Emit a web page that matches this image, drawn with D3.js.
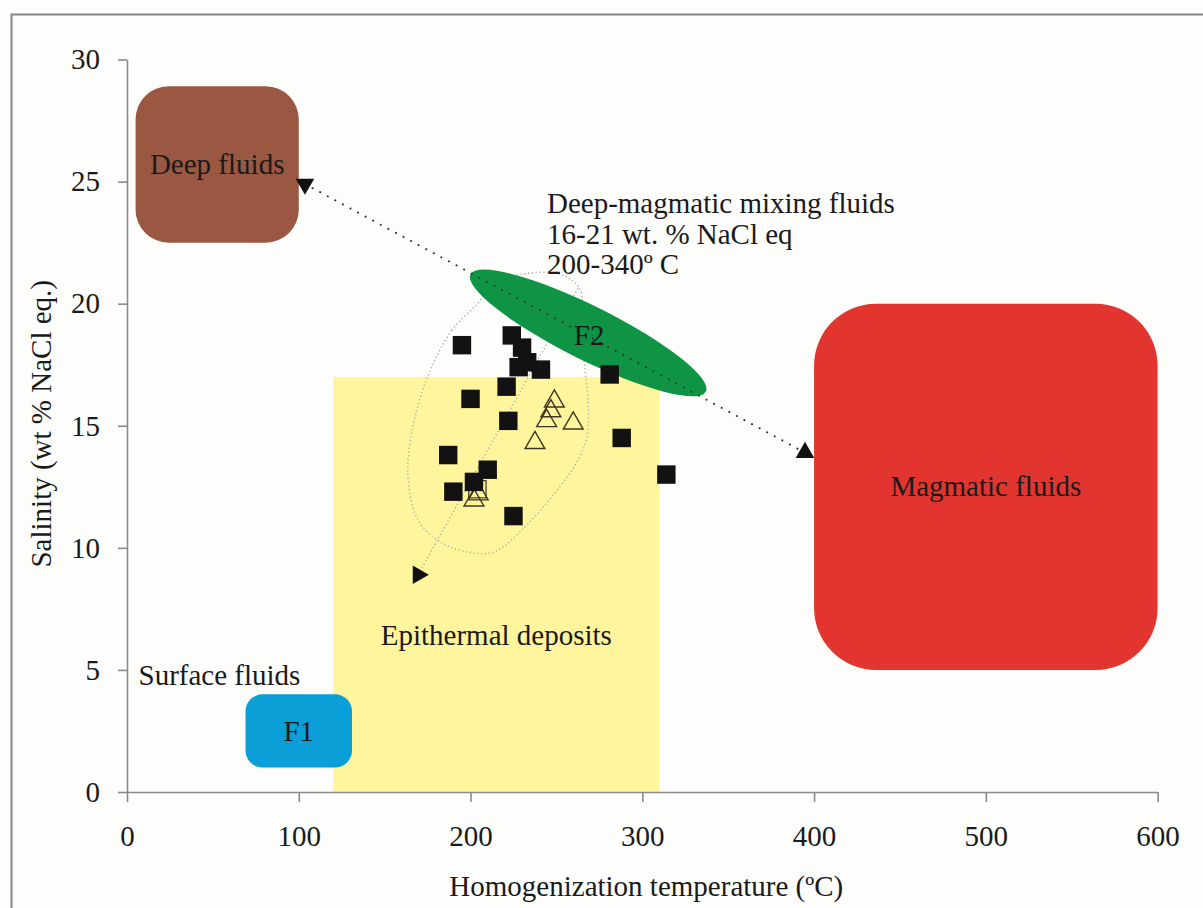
<!DOCTYPE html>
<html>
<head>
<meta charset="utf-8">
<script src="https://cdn.jsdelivr.net/npm/d3@7"></script>
<style>
  html, body { margin: 0; padding: 0; background: #ffffff; }
  svg { display: block; }
  text { font-family: "Liberation Serif", "Times New Roman", serif; fill: #1a1a1a; }
</style>
</head>
<body>
<svg id="chart" width="1203" height="908"></svg>
<script>
// ---- axis ticks ----
const xTicks = [0, 100, 200, 300, 400, 500, 600];
const yTicks = [0, 5, 10, 15, 20, 25, 30];

// ---- fluid fields: temperature range (°C) and salinity range (wt % NaCl eq.) ----
const fieldNames = ["Epithermal deposits", "Deep fluids", "Magmatic fluids", "F1"];
const fieldTemp  = [[120, 310], [5, 100], [400, 600], [69, 131]];
const fieldSal   = [[0, 17], [22.5, 28.9], [5, 20], [1, 4]];

// ---- F2 mixing field: the two ends of its long axis (°C, wt %) ----
const f2Axis = [[200, 21.2], [337, 16.4]];

// ---- fluid inclusion measurements: [Th °C, salinity wt % NaCl eq.] ----
const squareData = [
  [195, 18.3], [224, 18.7], [230, 18.2], [228, 17.4], [233, 17.6], [241, 17.3],
  [221, 16.6], [281, 17.1], [200, 16.1], [222, 15.2], [288, 14.5], [187, 13.8],
  [210, 13.2], [202, 12.7], [190, 12.3], [314, 13.0], [225, 11.3]
];
const triangleData = [
  [248.8, 16.0], [246.8, 15.6], [244.3, 15.2], [259.8, 15.1], [237.5, 14.3], [202, 11.95], [204.5, 12.2]
];
const openSquareData = [[204, 12.4]];

// ---- trend lines ----
const mixingTrend   = [[103.6, 24.9], [394.7, 13.9]];
const dilutionTrend = [[169.5, 8.9], [263, 20.7]];

// ---- outline around the measured inclusion population ----
const populationOutline = [
  [204, 20.0], [189, 18.9], [175, 17.0], [166, 14.8], [163.6, 12.9], [169.4, 11.15],
  [183.4, 10.2], [200.8, 9.8], [214.2, 9.84], [230, 10.74], [247.4, 12.1], [262.6, 13.6],
  [267.8, 14.55], [268.4, 16.1], [266.6, 17.3], [264.9, 19.2], [263.7, 20.6],
  [252, 21.2], [229, 21.2], [214, 20.8]
];

const mixingNote = ["Deep-magmatic mixing fluids", "16-21 wt. % NaCl eq", "200-340º C"];

// ---- styling ----
const fieldStyle = {
  "Epithermal deposits": { fill: "#fff59c", rx: 0 },
  "Deep fluids":         { fill: "#9a5842", rx: 33 },
  "Magmatic fluids":     { fill: "#e2352f", rx: 62 },
  "F1":                  { fill: "#0a9fd6", rx: 17 }
};
const FONT = 29;

const svg = d3.select("#chart");
const W = 1203, H = 908;

const x = d3.scaleLinear().domain([0, 600]).range([127, 1157.6]);
const y = d3.scaleLinear().domain([0, 30]).range([792, 59.5]);

// page background and frame
svg.append("rect").attr("width", W).attr("height", H).attr("fill", "#fdfdfb");
svg.append("path")
  .attr("d", `M11.5,${H} V14.5 H${W}`)
  .attr("fill", "none").attr("stroke", "#868686").attr("stroke-width", 2);

// fluid fields
const fields = fieldNames.map((n, i) => ({ name: n, t: fieldTemp[i], s: fieldSal[i] }));
svg.append("g").selectAll("rect").data(fields).join("rect")
  .attr("x", d => x(d.t[0]))
  .attr("y", d => y(d.s[1]))
  .attr("width", d => x(d.t[1]) - x(d.t[0]))
  .attr("height", d => y(d.s[0]) - y(d.s[1]))
  .attr("rx", d => fieldStyle[d.name].rx)
  .attr("fill", d => fieldStyle[d.name].fill);

// outline of inclusion population
svg.append("path")
  .datum(populationOutline)
  .attr("d", d3.line().x(d => x(d[0])).y(d => y(d[1])).curve(d3.curveCatmullRomClosed.alpha(0.5)))
  .attr("fill", "none").attr("stroke", "#a9a9a2").attr("stroke-width", 1.4)
  .attr("stroke-dasharray", "1.2,2.6");

// dilution trend (dotted) with right-pointing head
svg.append("path")
  .datum(dilutionTrend)
  .attr("d", d3.line().x(d => x(d[0])).y(d => y(d[1])))
  .attr("fill", "none").attr("stroke", "#a9a9a2").attr("stroke-width", 1.4)
  .attr("stroke-dasharray", "1.2,2.6");

// F2 mixing field
const p1 = [x(f2Axis[0][0]), y(f2Axis[0][1])];
const p2 = [x(f2Axis[1][0]), y(f2Axis[1][1])];
const cx = (p1[0] + p2[0]) / 2, cy = (p1[1] + p2[1]) / 2;
const semiMajor = Math.hypot(p2[0] - p1[0], p2[1] - p1[1]) / 2;
const angle = Math.atan2(p2[1] - p1[1], p2[0] - p1[0]) * 180 / Math.PI;
svg.append("ellipse")
  .attr("cx", 0).attr("cy", 0).attr("rx", semiMajor).attr("ry", 27)
  .attr("transform", `translate(${cx},${cy}) rotate(${angle})`)
  .attr("fill", "#0e9444");

// deep–magmatic mixing trend (dotted)
svg.append("path")
  .datum(mixingTrend)
  .attr("d", d3.line().x(d => x(d[0])).y(d => y(d[1])))
  .attr("fill", "none").attr("stroke", "#333").attr("stroke-width", 2)
  .attr("stroke-linecap", "round").attr("stroke-dasharray", "0.1,8.5");

// trend end markers
const tri = d3.symbol().type(d3.symbolTriangle);
const heads = [
  { p: mixingTrend[0], rot: 180, size: 150 },
  { p: mixingTrend[1], rot: 0, size: 150 },
  { p: dilutionTrend[0], rot: 90, size: 150 }
];
svg.append("g").selectAll("path").data(heads).join("path")
  .attr("d", d => tri.size(d.size)())
  .attr("transform", d => `translate(${x(d.p[0])},${y(d.p[1])}) rotate(${d.rot})`)
  .attr("fill", "#111");

// open squares
svg.append("g").selectAll("path").data(openSquareData).join("path")
  .attr("d", d3.symbol().type(d3.symbolSquare).size(300)())
  .attr("transform", d => `translate(${x(d[0])},${y(d[1])})`)
  .attr("fill", "none").attr("stroke", "#4a4532").attr("stroke-width", 1.3);

// open triangles
svg.append("g").selectAll("path").data(triangleData).join("path")
  .attr("d", d3.symbol().type(d3.symbolTriangle).size(170)())
  .attr("transform", d => `translate(${x(d[0])},${y(d[1])})`)
  .attr("fill", "none").attr("stroke", "#3d3823").attr("stroke-width", 1.4);

// filled squares
svg.append("g").selectAll("path").data(squareData).join("path")
  .attr("d", d3.symbol().type(d3.symbolSquare).size(340)())
  .attr("transform", d => `translate(${x(d[0])},${y(d[1])})`)
  .attr("fill", "#121212");

// axes
const axisColor = "#8a8a8a";
const gx = svg.append("g").attr("transform", `translate(0,${y(0)})`)
  .call(d3.axisBottom(x).tickValues(xTicks).tickSize(10).tickSizeOuter(0).tickPadding(23));
const gy = svg.append("g").attr("transform", `translate(${x(0)},0)`)
  .call(d3.axisLeft(y).tickValues(yTicks).tickSize(9).tickSizeOuter(0).tickPadding(18));
[gx, gy].forEach(g => {
  g.select(".domain").attr("stroke", axisColor).attr("stroke-width", 1.6);
  g.selectAll(".tick line").attr("stroke", axisColor).attr("stroke-width", 1.6);
  g.selectAll(".tick text").attr("font-size", FONT).attr("fill", "#1a1a1a")
    .attr("font-family", '"Liberation Serif", "Times New Roman", serif');
});

// axis titles
svg.append("text")
  .attr("x", x(300) + 4).attr("y", 896)
  .attr("text-anchor", "middle").attr("font-size", FONT)
  .text("Homogenization temperature (ºC)");
svg.append("text")
  .attr("transform", `translate(51,${y(15) - 2}) rotate(-90)`)
  .attr("text-anchor", "middle").attr("font-size", FONT)
  .text("Salinity (wt % NaCl eq.)");

// field labels
const labelAt = {
  "Epithermal deposits": [215, 6.4],
  "Deep fluids": null, "Magmatic fluids": null, "F1": null
};
svg.append("g").selectAll("text").data(fields).join("text")
  .attr("x", d => labelAt[d.name] ? x(labelAt[d.name][0]) : x((d.t[0] + d.t[1]) / 2))
  .attr("y", d => labelAt[d.name] ? y(labelAt[d.name][1]) : y((d.s[0] + d.s[1]) / 2))
  .attr("dy", "0.33em")
  .attr("text-anchor", "middle").attr("font-size", FONT)
  .text(d => d.name);

svg.append("text")
  .attr("x", cx + 1).attr("y", cy + 2).attr("dy", "0.33em")
  .attr("text-anchor", "middle").attr("font-size", FONT)
  .text("F2");

svg.append("text")
  .attr("x", x(6.7)).attr("y", y(4.4))
  .attr("font-size", FONT)
  .text("Surface fluids");

svg.append("text")
  .attr("x", x(244.5)).attr("y", y(23.7))
  .attr("font-size", FONT)
  .selectAll("tspan").data(mixingNote).join("tspan")
  .attr("x", x(244.5))
  .attr("dy", (d, i) => i === 0 ? 0 : 30.5)
  .text(d => d);
</script>
</body>
</html>
